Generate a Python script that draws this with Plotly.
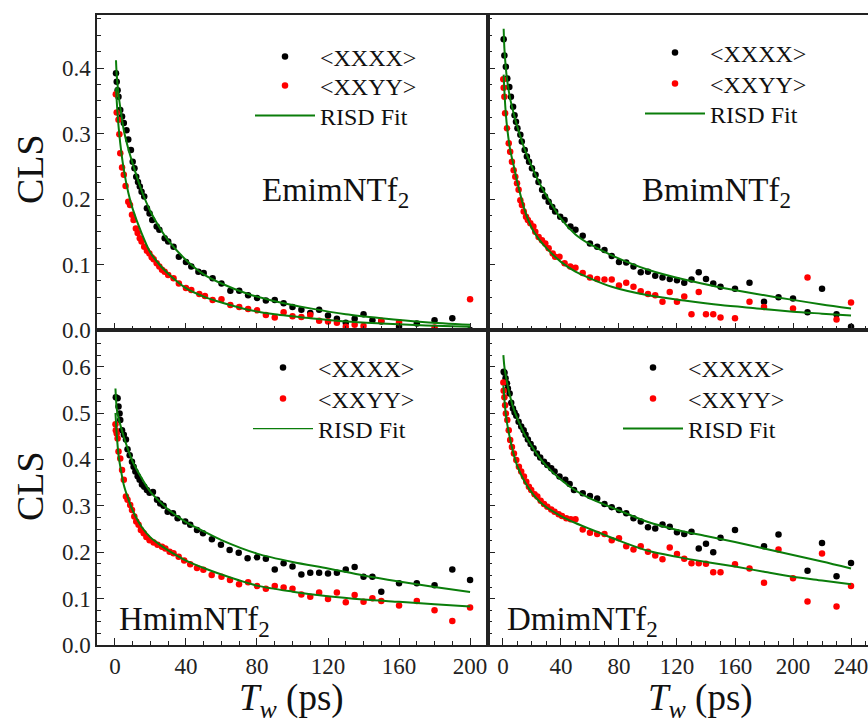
import plotly.graph_objects as go

# ---------------- data ----------------
t_emim_xxxx = [0.6,1,1.5,2,3,4,5,6.5,7.5,9,10,11,12,13,14,15,16.5,18,19.5,21,23.5,25,28,30,33,36,40,43,47,50,
               55,60,65,70,75,80,85,90,95,100,105,110,115,120,125,130,135,140,145,150,160,170,180,190,200]
cls_emim_xxxx = [0.392,0.379,0.366,0.356,0.336,0.326,0.316,0.305,0.291,0.275,0.257,0.247,0.234,0.226,0.219,0.211,0.204,0.186,0.178,0.168,
                 0.158,0.153,0.140,0.135,0.127,0.112,0.104,0.097,0.089,0.087,0.079,0.071,0.060,0.060,0.053,0.049,0.045,0.046,0.041,0.035,
                 0.031,0.026,0.031,0.022,0.017,0.011,0.017,0.024,0.015,0.013,0.005,0.010,0.015,0.018,0.000]
t_emim_xxyy = [0.5,1,2,2.5,3,4,5,6,7.5,8.5,9.6,10.5,11.8,12.8,14,15,16.5,18,19.4,20.7,21.8,23.5,25,26.5,28,30,33,36,40,43,
               47.5,50.7,55,60,65,70,75,80,85,90,95,100,105,110,115,120,125,130,135,140,150,160,180,200]
cls_emim_xxyy = [0.360,0.332,0.321,0.299,0.270,0.248,0.237,0.220,0.196,0.191,0.176,0.168,0.155,0.148,0.140,0.135,0.127,0.121,0.117,0.111,
                 0.108,0.102,0.097,0.092,0.089,0.084,0.079,0.071,0.064,0.061,0.055,0.052,0.046,0.047,0.038,0.035,0.032,0.030,0.023,0.019,
                 0.027,0.021,0.020,0.023,0.014,0.013,0.011,0.005,0.008,0.006,0.014,0.012,0.004,0.047]
t_emim_fit = [0.6,1,2,3,5,7.5,10,15,20,25,30,40,50,60,75,90,110,130,150,175,200]
fit_emim_xxxx = [0.412,0.39,0.36,0.34,0.305,0.277,0.254,0.213,0.181,0.157,0.137,0.107,0.085,0.071,0.055,0.044,0.033,0.024,0.018,0.012,0.008]
fit_emim_xxyy = [0.37,0.35,0.312,0.285,0.245,0.21,0.185,0.148,0.118,0.100,0.086,0.064,0.051,0.042,0.031,0.024,0.018,0.013,0.010,0.007,0.005]

t_bmim_xxxx = [0.5,1,2,3,4.4,5.5,7,8,9,10,12,13,15,16.5,18,20,22.5,24.5,27,29,31.5,34,36,39.5,42.5,46.5,50,55,60,65,
               70,75,80,85,90,95,100,105,110,115,120,125,130,135,140,145,150,160,170,180,190,200,210,220,230,240]
cls_bmim_xxxx = [0.444,0.419,0.402,0.384,0.371,0.356,0.341,0.328,0.318,0.308,0.298,0.288,0.275,0.265,0.257,0.247,0.237,0.226,0.214,0.204,
                 0.196,0.188,0.181,0.173,0.168,0.158,0.153,0.144,0.132,0.127,0.122,0.113,0.104,0.103,0.097,0.088,0.089,0.083,0.080,0.078,
                 0.076,0.072,0.077,0.088,0.078,0.071,0.066,0.063,0.072,0.043,0.050,0.048,0.027,0.063,0.024,0.005]
t_bmim_xxyy = [0.25,0.5,1,1.5,2.8,4,5,6.2,7.4,8.5,9.7,10.8,12,13.1,14.3,15.9,17.2,18.9,21,22.3,24.6,26.9,29.2,31.5,34.3,36,39,42.5,46.4,50,
               55,60,65,70,75,80,85,90,95,100,105,110,115,120,125,130,135,140,145,150,160,170,180,190,200,210,230,240]
cls_bmim_xxyy = [0.383,0.370,0.356,0.331,0.308,0.285,0.272,0.257,0.244,0.234,0.224,0.214,0.198,0.191,0.181,0.173,0.168,0.163,0.158,0.150,
                 0.142,0.137,0.132,0.125,0.117,0.112,0.112,0.102,0.097,0.095,0.087,0.080,0.078,0.077,0.077,0.068,0.072,0.066,0.059,0.055,
                 0.053,0.043,0.058,0.043,0.051,0.024,0.058,0.024,0.024,0.019,0.018,0.043,0.035,-0.002,0.033,0.080,0.016,0.042]
t_bmim_fit = [0.5,1,2,3,5,7.5,10,15,20,25,30,40,50,60,75,100,125,150,175,200,220,240]
fit_bmim_xxxx = [0.46,0.43,0.40,0.38,0.353,0.33,0.31,0.276,0.249,0.225,0.205,0.170,0.146,0.131,0.114,0.092,0.077,0.065,0.055,0.046,0.039,0.033]
fit_bmim_xxyy = [0.39,0.365,0.33,0.307,0.275,0.25,0.225,0.183,0.155,0.138,0.125,0.104,0.089,0.079,0.066,0.053,0.045,0.038,0.033,0.028,0.025,0.022]

t_hmim_xxxx = [0.5,1.5,2,2.6,3,4,5,6.2,7.1,8.3,9.6,10.5,11.5,12.8,13.9,15.2,16.5,18,19.5,21.4,23.7,25.5,27.4,29.7,32.7,35.3,39.6,42.4,46.2,49.6,
               54.6,59.7,64.6,69.7,74.7,80,85,90,95,100,105,110,115,120,125,130,135,140,145,150,160,170,180,190,200]
cls_hmim_xxxx = [0.534,0.532,0.514,0.499,0.485,0.463,0.453,0.443,0.422,0.409,0.395,0.384,0.374,0.364,0.356,0.346,0.341,0.334,0.328,0.330,
                 0.313,0.305,0.300,0.287,0.284,0.273,0.266,0.259,0.248,0.241,0.228,0.216,0.205,0.199,0.187,0.189,0.186,0.163,0.176,0.169,
                 0.152,0.156,0.156,0.154,0.156,0.163,0.168,0.147,0.147,0.115,0.133,0.133,0.129,0.163,0.140]
t_hmim_xxyy = [0.3,0.5,1,1.5,2,3,4,5,6.2,7.1,8.6,9.6,10.9,12,13.3,14.6,16.2,17.7,19.5,21.8,24,26.5,28.4,30.8,33,35.9,39,42.4,46.2,49.8,
               54.5,60,64.8,69.9,75,80,85,90,95,100,105,110,115,120,125,130,135,140,145,150,160,170,180,190,200]
cls_hmim_xxyy = [0.476,0.463,0.456,0.445,0.417,0.402,0.377,0.356,0.320,0.313,0.302,0.291,0.277,0.266,0.259,0.248,0.241,0.233,0.226,0.221,
                 0.216,0.212,0.208,0.201,0.198,0.190,0.182,0.174,0.166,0.162,0.151,0.147,0.140,0.131,0.135,0.127,0.121,0.127,0.124,0.121,
                 0.109,0.104,0.113,0.099,0.113,0.092,0.108,0.093,0.101,0.095,0.085,0.095,0.075,0.052,0.081]
t_hmim_fit = [0.3,1,2,3,5,7.5,10,15,20,25,30,40,50,60,80,100,120,140,160,180,200]
fit_hmim_xxxx = [0.553,0.51,0.49,0.475,0.449,0.42,0.395,0.36,0.33,0.31,0.292,0.265,0.245,0.226,0.197,0.179,0.165,0.150,0.137,0.125,0.114]
fit_hmim_xxyy = [0.50,0.455,0.41,0.385,0.345,0.315,0.29,0.255,0.232,0.217,0.204,0.182,0.166,0.152,0.128,0.115,0.105,0.098,0.093,0.088,0.083]

t_dmim_xxxx = [0.5,1.1,1.8,2.8,3.4,4.6,5.7,6.9,8,9.2,10.8,12.6,14.3,15.6,17.2,19.1,21.1,23.4,25.7,28.3,30.6,33.3,35.6,39,43,46,49,55,60,65,
               70,75,80,85,90,95,100,105,110,115,120,125,130,135,140,145,150,160,180,190,210,220,230,240]
cls_dmim_xxxx = [0.589,0.587,0.575,0.564,0.553,0.542,0.522,0.510,0.501,0.494,0.481,0.471,0.463,0.453,0.443,0.433,0.424,0.413,0.404,0.395,
                 0.388,0.381,0.374,0.363,0.356,0.347,0.334,0.327,0.321,0.316,0.304,0.297,0.291,0.284,0.273,0.266,0.254,0.251,0.260,0.255,
                 0.243,0.239,0.244,0.208,0.218,0.200,0.231,0.248,0.213,0.238,0.160,0.220,0.148,0.177]
t_dmim_xxyy = [0.3,0.5,1,1.5,2,3,4,5,6.2,7.6,9.2,11,12.6,14.5,16.1,17.9,19.5,21.8,23.7,26,28.3,30.6,33.3,35.6,38.4,40.7,43.7,46.7,50,55,
               60,65,70,75,80,85,90,95,100,105,110,115,120,125,130,135,140,145,150,160,170,180,190,200,210,220,230,240]
cls_dmim_xxyy = [0.566,0.548,0.534,0.517,0.499,0.485,0.463,0.442,0.427,0.413,0.399,0.384,0.374,0.363,0.352,0.341,0.334,0.325,0.320,0.311,
                 0.304,0.298,0.292,0.287,0.282,0.278,0.273,0.271,0.271,0.249,0.242,0.239,0.239,0.226,0.230,0.213,0.206,0.213,0.201,0.193,
                 0.185,0.210,0.196,0.186,0.176,0.176,0.175,0.157,0.157,0.174,0.165,0.134,0.206,0.144,0.094,0.197,0.083,0.127]
t_dmim_fit = [0.3,1,2,3,5,7.5,10,15,20,25,30,40,50,60,80,100,120,140,160,180,200,220,240]
fit_dmim_xxxx = [0.625,0.60,0.58,0.563,0.535,0.508,0.488,0.454,0.428,0.405,0.386,0.356,0.333,0.316,0.29,0.265,0.248,0.235,0.222,0.208,0.194,0.180,0.165]
fit_dmim_xxyy = [0.56,0.53,0.497,0.475,0.443,0.41,0.385,0.352,0.328,0.31,0.297,0.278,0.263,0.25,0.225,0.203,0.19,0.179,0.169,0.158,0.147,0.139,0.131]

panel_names = ["EmimNTf<sub>2</sub>", "BmimNTf<sub>2</sub>", "HmimNTf<sub>2</sub>", "DmimNTf<sub>2</sub>"]
legend_names = ["&lt;XXXX&gt;", "&lt;XXYY&gt;", "RISD Fit"]
x_ticks_left = [0, 40, 80, 120, 160, 200]
x_ticks_right = [0, 40, 80, 120, 160, 200, 240]

# ---------------- figure ----------------
W, H = 868, 719
FONT = "Liberation Serif, Times New Roman, serif"
BLACK, RED, GREEN = "#000000", "#ff0000", "#0a7d0a"

panels = [
    (t_emim_xxxx, cls_emim_xxxx, t_emim_xxyy, cls_emim_xxyy, t_emim_fit, fit_emim_xxxx, fit_emim_xxyy),
    (t_bmim_xxxx, cls_bmim_xxxx, t_bmim_xxyy, cls_bmim_xxyy, t_bmim_fit, fit_bmim_xxxx, fit_bmim_xxyy),
    (t_hmim_xxxx, cls_hmim_xxxx, t_hmim_xxyy, cls_hmim_xxyy, t_hmim_fit, fit_hmim_xxxx, fit_hmim_xxyy),
    (t_dmim_xxxx, cls_dmim_xxxx, t_dmim_xxyy, cls_dmim_xxyy, t_dmim_fit, fit_dmim_xxxx, fit_dmim_xxyy),
]
legend_line_width = [2, 2, 1.2, 2]   # the Hmim panel's legend shows a thinner line

def leg_id(k):
    return "legend" if k == 0 else f"legend{k+1}"

fig = go.Figure()
for i, (tx, cx, ty, cy, tf, fx, fy) in enumerate(panels):
    xa = "x" if i == 0 else f"x{i+1}"
    ya = "y" if i == 0 else f"y{i+1}"
    fig.add_trace(go.Scatter(x=tx, y=cx, mode="markers", name=legend_names[0], showlegend=True,
                             marker=dict(color=BLACK, size=6.5), xaxis=xa, yaxis=ya, legend=leg_id(3 * i)))
    fig.add_trace(go.Scatter(x=ty, y=cy, mode="markers", name=legend_names[1], showlegend=True,
                             marker=dict(color=RED, size=6.5), xaxis=xa, yaxis=ya, legend=leg_id(3 * i + 1)))
    for fv in (fx, fy):
        fig.add_trace(go.Scatter(x=tf, y=fv, mode="lines", name=legend_names[2], showlegend=False,
                                 line=dict(color=GREEN, width=2, shape="spline", smoothing=0.8),
                                 xaxis=xa, yaxis=ya))
    # legend entry for the fit
    fig.add_trace(go.Scatter(x=[None], y=[None], mode="lines", name=legend_names[2], showlegend=True,
                             line=dict(color=GREEN, width=legend_line_width[i]),
                             xaxis=xa, yaxis=ya, legend=leg_id(3 * i + 2)))

def px_x(p):
    return p / W

def px_y(p):
    return 1 - p / H

AX = dict(showline=True, linecolor="#222", linewidth=1.5, ticks="inside", tickcolor="#222",
          ticklen=7, tickwidth=1.2, showgrid=False, zeroline=False, automargin=False,
          tickfont=dict(family=FONT, size=23, color="#222"))

left_dom = [px_x(97), px_x(488)]
right_dom = [px_x(488), 1.0]
top_dom = [px_y(330), px_y(15)]
bot_dom = [px_y(645), px_y(330)]

xl = dict(AX, range=[-10.1, 210.1], tickvals=x_ticks_left, mirror=True, ticklabeloverflow="allow",
          minor=dict(dtick=10, tick0=0, ticks="inside", ticklen=4, tickcolor="#222"))
xr = dict(AX, range=[-10.3, 251.7], tickvals=x_ticks_right, mirror=True, ticklabeloverflow="allow",
          minor=dict(dtick=10, tick0=0, ticks="inside", ticklen=4, tickcolor="#222"))
yt = dict(AX, range=[0, 0.481], dtick=0.1, tick0=0, tickformat=".1f",
          minor=dict(dtick=0.025, tick0=0, ticks="inside", ticklen=4, tickcolor="#222"))
yb = dict(AX, range=[0, 0.679], dtick=0.1, tick0=0, tickformat=".1f",
          minor=dict(dtick=0.025, tick0=0, ticks="inside", ticklen=4, tickcolor="#222"))

fig.update_layout(
    template="none", showlegend=True,
    width=W, height=H, autosize=False, margin=dict(l=0, r=0, t=0, b=0, pad=0),
    paper_bgcolor="white", plot_bgcolor="white",
    font=dict(family=FONT, color="#111"),
    xaxis=dict(xl, domain=left_dom, anchor="y", showticklabels=False),
    yaxis=dict(yt, domain=top_dom, anchor="x", mirror=True),
    xaxis2=dict(xr, domain=right_dom, anchor="y2", showticklabels=False),
    yaxis2=dict(yt, domain=top_dom, anchor="x2", showticklabels=False),
    xaxis3=dict(xl, domain=left_dom, anchor="y3"),
    yaxis3=dict(yb, domain=bot_dom, anchor="x3", mirror=True),
    xaxis4=dict(xr, domain=right_dom, anchor="y4"),
    yaxis4=dict(yb, domain=bot_dom, anchor="x4", showticklabels=False),
)

# one legend per entry so that each row sits where the reference puts it
LEG = dict(font=dict(family=FONT, size=24, color="#111"), bgcolor="rgba(0,0,0,0)", visible=True,
           xanchor="left", yanchor="middle", itemclick=False, itemwidth=60, borderwidth=0)
legend_text_x = [320, 710, 318, 688]          # left edge of legend text, per panel
legend_rows = [(57, 86, 116), (53, 84, 114), (368, 399, 429), (368, 399, 429)]
leg_layout = {}
for i in range(4):
    for r in range(3):
        leg_layout[leg_id(3 * i + r)] = dict(LEG, x=px_x(legend_text_x[i] - 70), y=px_y(legend_rows[i][r]))
fig.update_layout(**leg_layout)

# panel labels
label_pos = [("x", "y", 81.7, 0.21), ("x2", "y2", 94.5, 0.21), ("x3", "y3", 1.0, 0.05), ("x4", "y4", 1.4, 0.05)]
for name, (xr_, yr_, lx, ly) in zip(panel_names, label_pos):
    fig.add_annotation(text=name, xref=xr_, yref=yr_, x=lx, y=ly, xanchor="left", yanchor="middle",
                       showarrow=False, font=dict(family=FONT, size=33, color="#111"))

# axis titles
for yc in (169, 486):
    fig.add_annotation(text="CLS", xref="paper", yref="paper", x=px_x(30), y=px_y(yc),
                       xanchor="center", yanchor="middle", textangle=-90, showarrow=False,
                       font=dict(family=FONT, size=38, color="#111"))
for xc in (291, 700):
    fig.add_annotation(text="<i>T</i><sub><i>w</i></sub> (ps)", xref="paper", yref="paper",
                       x=px_x(xc), y=px_y(700), xanchor="center", yanchor="middle", showarrow=False,
                       font=dict(family=FONT, size=37, color="#111"))

fig.write_html("out.html")
